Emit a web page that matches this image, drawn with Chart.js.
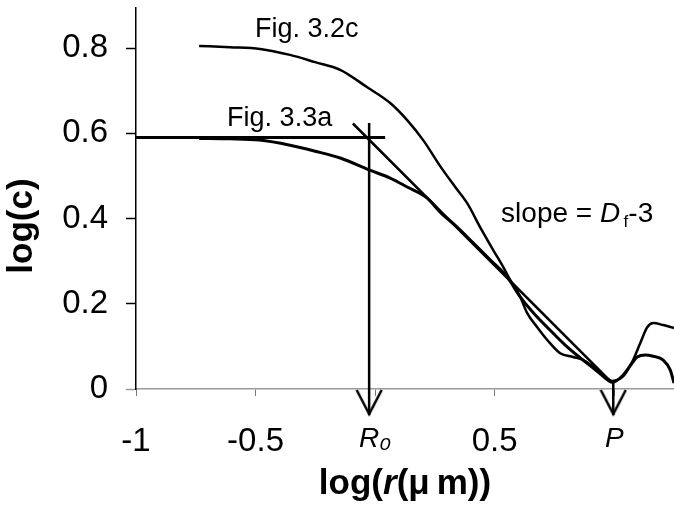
<!DOCTYPE html>
<html><head><meta charset="utf-8">
<script src="https://cdn.jsdelivr.net/npm/chart.js@4.4.0/dist/chart.umd.min.js"></script>
<style>html,body{margin:0;padding:0;background:#fff;}canvas{display:block;}</style>
</head><body>
<canvas id="c" width="674" height="508"></canvas>
<script>
// ---- data ----
const fig32cX = [-0.736,-0.607,-0.481,-0.356,-0.251,-0.146,-0.033,0.063,0.134,0.201,0.272,0.335,0.385,0.439,0.494,0.536,0.565,0.607,0.636,0.678,0.720,0.774,0.828,0.870,0.929,0.962,0.992,1.038,1.079,1.109,1.138,1.163,1.205,1.250];
const fig32cY = [0.805,0.802,0.798,0.784,0.767,0.749,0.708,0.671,0.631,0.584,0.523,0.474,0.436,0.380,0.326,0.286,0.256,0.216,0.178,0.145,0.115,0.084,0.075,0.068,0.045,0.028,0.019,0.030,0.068,0.108,0.145,0.155,0.150,0.143];
const fig33aX = [-0.736,-0.607,-0.485,-0.356,-0.251,-0.146,-0.025,0.063,0.134,0.218,0.272,0.343,0.410,0.481,0.552,0.607,0.669,0.732,0.795,0.858,0.921,0.962,0.992,1.038,1.075,1.096,1.130,1.163,1.205,1.234,1.250];
const fig33aY = [0.588,0.587,0.584,0.572,0.558,0.542,0.514,0.495,0.474,0.448,0.415,0.380,0.343,0.303,0.263,0.216,0.174,0.138,0.103,0.073,0.045,0.026,0.016,0.033,0.061,0.075,0.080,0.077,0.068,0.045,0.014];
const tangentX = [-0.093, 0.99];
const tangentY = [0.623, 0.015];
const plateauX = [-1, 0.042];
const plateauY = [0.59, 0.59];
const r0ArrowX = [-0.025, -0.025];
const r0ArrowY = [0.624, -0.061];
const pArrowX = [0.996, 0.996];
const pArrowY = [0.015, -0.061];
const xTickValues = [-1, -0.5, 0, 0.5, 1];
const xTickLabels = ['-1', '-0.5', 'R\u2080', '0.5', 'P'];
const yTickValues = [0, 0.2, 0.4, 0.6, 0.8];
const yTickLabels = ['0', '0.2', '0.4', '0.6', '0.8'];

const FAM = '"Liberation Sans", Arial, sans-serif';
const pts = (xs, ys) => xs.map((x, i) => ({x: x, y: ys[i]}));

function makeArrowHead() {
  const c = document.createElement('canvas');
  c.width = 28; c.height = 56;
  const g = c.getContext('2d');
  g.strokeStyle = '#000'; g.lineWidth = 2.5; g.lineJoin = 'miter';
  g.beginPath(); g.moveTo(1.5, 3); g.lineTo(14, 27); g.lineTo(26.5, 3); g.stroke();
  return c;
}
const arrowHead = makeArrowHead();

const lineDs = (label, data, w) => ({
  label, data, showLine: true, borderColor: '#000', backgroundColor: '#000',
  borderWidth: w, pointRadius: 0, fill: false, cubicInterpolationMode: 'monotone'
});
const arrowDs = (label, data) => ({
  label, data, showLine: true, borderColor: '#000', borderWidth: 2.5,
  pointRadius: [0, 40], pointHoverRadius: 0, pointStyle: arrowHead, clip: false
});

const texts = [
  {x: -0.502, y: 0.826, parts: [{t: 'Fig. 3.2c', f: '27px ' + FAM}]},
  {x: -0.619, y: 0.617, parts: [{t: 'Fig. 3.3a', f: '27px ' + FAM}]},
  {x: 0.527, y: 0.392, parts: [
    {t: 'slope = ', f: '28px ' + FAM},
    {t: 'D', f: 'italic 28px ' + FAM},
    {t: '\u2009f', f: '17px ' + FAM, dy: 5},
    {t: '-3', f: '28px ' + FAM}]}
];

function drawParts(ctx, parts, x, y, align) {
  let total = 0;
  parts.forEach(p => { ctx.font = p.f; total += ctx.measureText(p.t).width; });
  let cx = align === 'center' ? x - total / 2 : x;
  parts.forEach(p => {
    ctx.font = p.f;
    ctx.fillText(p.t, cx, y + (p.dy || 0));
    cx += ctx.measureText(p.t).width;
  });
}

const textPlugin = {
  id: 'texts',
  afterDatasetsDraw(chart) {
    const ctx = chart.ctx, sx = chart.scales.x, sy = chart.scales.y;
    ctx.save();
    ctx.fillStyle = '#000';
    ctx.textBaseline = 'alphabetic';
    ctx.textAlign = 'left';
    texts.forEach(a => drawParts(ctx, a.parts, sx.getPixelForValue(a.x), sy.getPixelForValue(a.y), 'left'));
    // x axis title
    ctx.textBaseline = 'middle';
    const xc = (chart.chartArea.left + chart.chartArea.right) / 2;
    drawParts(ctx, [
      {t: 'log(', f: 'bold 35px ' + FAM},
      {t: 'r', f: 'italic bold 35px ' + FAM},
      {t: '(\u03bc\u2009m))', f: 'bold 35px ' + FAM}], xc, 484, 'center');
    // y axis title
    ctx.translate(22, 226);
    ctx.rotate(-Math.PI / 2);
    drawParts(ctx, [{t: 'log(c)', f: 'bold 35px ' + FAM}], 0, 0, 'center');
    ctx.restore();
  }
};

const noPad = s => { s.paddingTop = 0; s.paddingBottom = 0; s.paddingLeft = 0; s.paddingRight = 0; };

new Chart(document.getElementById('c'), {
  type: 'scatter',
  data: {
    datasets: [
      lineDs('Fig. 3.2c', pts(fig32cX, fig32cY), 2.5),
      lineDs('Fig. 3.3a', pts(fig33aX, fig33aY), 3),
      lineDs('tangent', pts(tangentX, tangentY), 2.5),
      lineDs('plateau', pts(plateauX, plateauY), 3),
      arrowDs('R0', pts(r0ArrowX, r0ArrowY)),
      arrowDs('P', pts(pArrowX, pArrowY))
    ]
  },
  options: {
    responsive: false,
    animation: false,
    layout: {autoPadding: false, padding: {top: 8, right: 0, bottom: 0, left: 0}},
    plugins: {legend: {display: false}, tooltip: {enabled: false}},
    scales: {
      x: {
        type: 'linear', min: -1, max: 1.25,
        afterBuildTicks: s => { s.ticks = xTickValues.map(v => ({value: v})); },
        afterFit: s => { s.height = 119; noPad(s); },
        border: {display: true, color: '#9a9a9a', width: 1.5, dash: [7, 3]},
        grid: {drawOnChartArea: false, drawTicks: true, tickLength: 7, tickColor: '#777', tickWidth: 1},
        ticks: {
          autoSkip: false, maxRotation: 0, padding: 26, color: '#000',
          callback: (v, i) => xTickLabels[i],
          font: ctx => (ctx.index === 2 || ctx.index === 4)
            ? {family: FAM, size: 28, style: 'italic'}
            : {family: FAM, size: 33}
        }
      },
      y: {
        type: 'linear', min: 0, max: 0.894,
        afterBuildTicks: s => { s.ticks = yTickValues.map(v => ({value: v})); },
        afterFit: s => { s.width = 136; noPad(s); },
        border: {display: true, color: '#000', width: 1.5},
        grid: {drawOnChartArea: false, drawTicks: true, tickLength: 10,
          tickColor: ctx => (ctx.tick && ctx.tick.value === 0) ? '#9a9a9a' : '#000', tickWidth: 1.5},
        ticks: {
          padding: 18, color: '#000',
          callback: (v, i) => yTickLabels[i],
          font: {family: FAM, size: 33}
        }
      }
    }
  },
  plugins: [textPlugin]
});
</script>
</body></html>
